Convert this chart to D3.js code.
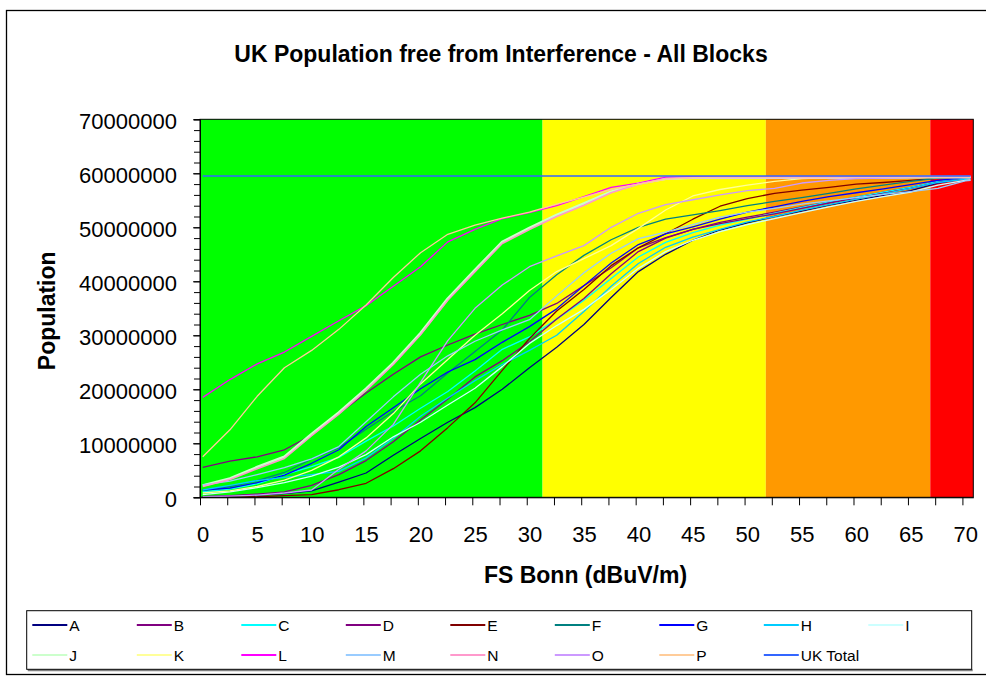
<!DOCTYPE html>
<html>
<head>
<meta charset="utf-8">
<script src="https://cdn.jsdelivr.net/npm/d3@7"></script>
<style>
  body { margin: 0; background: #fff; }
  svg { display: block; font-family: "Liberation Sans", Arial, Helvetica, sans-serif; }
</style>
</head>
<body>
<svg id="chart" width="986" height="677"></svg>
<script>
// Field strength categories (dBuV/m)
const fsBonn = [0, 2.5, 5, 7.5, 10, 12.5, 15, 17.5, 20, 22.5, 25, 27.5, 30, 32.5, 35,
                37.5, 40, 42.5, 45, 47.5, 50, 52.5, 55, 57.5, 60, 62.5, 65, 67.5, 70, 70.5];

// Population free from interference, in millions, per block
const blockA = [0.1,0.2,0.4,0.7,1.2,2.8,4.5,7.8,10.9,13.9,16.6,20.0,24.0,27.8,32.0,37.0,41.8,45.0,47.6,49.5,50.8,52.0,53.0,54.1,55.0,55.9,56.8,58.2,59.0,59.1];
const blockB = [5.55,6.7,7.5,8.8,11.5,15.5,19.3,22.8,26.0,28.2,30.2,32.0,33.7,35.9,39.2,42.5,46.2,48.1,49.6,50.9,51.9,52.8,53.8,54.7,55.6,56.5,57.4,58.5,59.1,59.2];
const blockC = [1.0,1.5,2.5,4.2,5.7,7.4,10.4,13.2,16.5,19.6,23.4,27.4,29.7,33.0,36.5,40.5,44.5,47.2,49.0,50.4,51.5,52.6,53.7,54.7,55.6,56.5,57.4,58.5,59.1,59.2];
const blockD = [0.1,0.3,0.6,1.0,2.2,4.2,6.8,10.3,14.3,18.2,22.3,25.3,28.8,33.0,36.8,41.4,45.5,48.0,49.6,50.7,51.6,52.5,53.5,54.5,55.4,56.3,57.2,58.3,59.0,59.1];
const blockE = [0.0,0.05,0.1,0.3,0.5,1.4,2.6,5.3,8.6,12.9,17.5,23.5,29.4,34.5,38.5,42.9,46.2,48.8,51.5,53.9,55.3,56.3,56.9,57.4,58.0,58.3,58.7,59.1,59.3,59.3];
const blockF = [1.35,2.0,3.1,4.6,7.1,9.2,12.6,15.9,18.8,23.0,27.0,31.0,37.0,41.2,44.8,47.7,50.0,51.5,52.3,53.1,54.0,54.8,55.5,56.3,57.1,57.8,58.5,59.1,59.4,59.4];
const blockG = [1.35,1.7,2.7,4.1,6.3,8.8,13.1,16.6,20.1,23.2,25.5,28.7,31.6,34.9,39.2,43.4,46.8,48.8,50.1,51.5,52.8,53.8,54.8,55.7,56.4,57.1,57.9,58.7,59.2,59.2];
const blockH = [1.35,2.2,3.1,3.7,4.2,4.8,7.3,10.9,15.0,18.4,21.6,24.6,27.2,30.0,34.4,39.1,43.3,46.3,48.2,49.6,51.0,52.0,53.2,54.2,55.2,56.2,57.2,58.3,58.9,59.0];
const blockI = [0.5,1.0,1.8,2.7,3.9,5.6,7.9,11.2,13.9,17.1,20.2,24.2,28.5,31.8,34.8,38.5,42.4,45.5,47.6,49.2,50.5,51.6,52.7,53.8,54.8,55.7,56.5,57.8,58.7,58.8];
const blockJ = [2.2,3.5,5.6,7.5,11.7,15.7,20.1,24.9,30.4,36.8,42.1,47.3,49.9,52.3,54.4,56.6,58.1,59.0,59.2,59.2,59.2,59.2,59.2,59.2,59.2,59.2,59.3,59.3,59.3,59.3];
const blockK = [0.8,1.2,2.0,3.2,5.0,7.5,11.0,15.5,21.0,25.5,30.0,34.0,38.3,41.8,44.2,46.6,49.8,53.2,55.8,57.0,57.8,58.5,59.0,59.2,59.3,59.3,59.3,59.3,59.3,59.3];
const blockL = [18.5,21.8,24.7,26.9,29.8,32.7,35.5,39.1,42.7,47.3,49.6,51.6,52.7,54.0,55.7,57.4,58.2,59.3,59.4,59.4,59.4,59.4,59.4,59.4,59.4,59.4,59.4,59.4,59.4,59.4];
const blockM = [2.3,3.0,4.2,5.5,7.1,9.4,14.0,18.6,22.8,26.2,28.9,31.0,32.9,37.3,41.6,45.2,47.9,49.1,50.5,51.9,52.8,53.5,54.3,54.9,55.5,56.1,56.6,57.2,58.6,58.7];
const blockN = [2.0,3.3,5.3,7.2,11.4,15.4,19.8,24.6,30.1,36.5,41.8,47.0,49.6,52.0,54.1,56.4,58.0,59.0,59.2,59.2,59.2,59.2,59.2,59.2,59.2,59.2,59.3,59.3,59.3,59.3];
const blockO = [0.1,0.2,0.4,0.8,1.35,5.2,8.6,13.5,21.3,29.0,35.0,39.3,42.7,44.7,46.6,50.0,52.6,54.2,55.1,56.0,56.8,57.2,58.2,58.7,59.0,59.1,59.2,59.3,59.3,59.3];
const blockP = [7.5,12.5,18.7,24.0,27.2,31.1,35.6,40.7,45.3,48.7,50.4,51.7,52.8,54.3,55.6,57.0,58.0,58.9,59.2,59.3,59.3,59.3,59.3,59.3,59.3,59.3,59.3,59.3,59.3,59.3];
const ukTotal = [59.5,59.5,59.5,59.5,59.5,59.5,59.5,59.5,59.5,59.5,59.5,59.5,59.5,59.5,59.5,59.5,59.5,59.5,59.5,59.5,59.5,59.5,59.5,59.5,59.5,59.5,59.5,59.5,59.5,59.5];

const seriesNames = ["A","B","C","D","E","F","G","H","I","J","K","L","M","N","O","P","UK Total"];
const seriesValues = [blockA,blockB,blockC,blockD,blockE,blockF,blockG,blockH,blockI,
                      blockJ,blockK,blockL,blockM,blockN,blockO,blockP,ukTotal];

// Reception quality zones along the field-strength axis
const zoneEdges = [-0.25, 31.2, 51.7, 66.8, 70.75];

// Axis tick labels
const xTickLabels = [0,5,10,15,20,25,30,35,40,45,50,55,60,65,70];
const yTickLabels = [0,10000000,20000000,30000000,40000000,50000000,60000000,70000000];

// ---- styling ----
const seriesColors = ["#000080","#800080","#00FFFF","#800080","#800000","#008080","#0000FF","#00CCFF",
                      "#CCFFFF","#CCFFCC","#FFFF99","#FF00FF","#99CCFF","#FF99CC","#CC99FF","#FFCC99","#3366FF"];
const seriesWidths = [1.3,1.3,1.3,1.3,1.3,1.3,1.3,1.3,1.3,2.6,1.3,1.3,1.3,1.6,1.3,1.3,1.5];
const zoneColors = ["#00FF00","#FFFF00","#FF9900","#FF0000"];

const svg = d3.select("#chart");
const plot = { left: 200, top: 119.3, right: 973.3, bottom: 497.3 };

const x = d3.scaleLinear().domain([zoneEdges[0], zoneEdges[zoneEdges.length - 1]])
  .range([plot.left, plot.right]);
const y = d3.scaleLinear().domain([0, 70000000]).range([plot.bottom, plot.top]);

// Chart frame
svg.append("rect").attr("x", 0).attr("y", 0).attr("width", 986).attr("height", 677).attr("fill", "#fff");
svg.append("rect").attr("x", 6.5).attr("y", 10.5).attr("width", 990).attr("height", 664)
  .attr("fill", "none").attr("stroke", "#000").attr("stroke-width", 1.3);

// Title
svg.append("text").attr("x", 501).attr("y", 62.3).attr("text-anchor", "middle")
  .attr("font-size", 23).attr("font-weight", "bold")
  .text("UK Population free from Interference - All Blocks");

// Zones
svg.append("g").selectAll("rect").data(zoneColors).join("rect")
  .attr("x", (d, i) => x(zoneEdges[i]))
  .attr("y", plot.top)
  .attr("width", (d, i) => x(zoneEdges[i + 1]) - x(zoneEdges[i]))
  .attr("height", plot.bottom - plot.top)
  .attr("fill", d => d);

// Lines
svg.append("defs").append("clipPath").attr("id", "plotClip")
  .append("rect").attr("x", plot.left).attr("y", plot.top)
  .attr("width", plot.right - plot.left).attr("height", plot.bottom - plot.top);

const line = d3.line()
  .x((d, i) => x(fsBonn[i]))
  .y(d => y(d * 1e6));

svg.append("g").attr("clip-path", "url(#plotClip)")
  .selectAll("path").data(seriesValues).join("path")
  .attr("d", d => line(d))
  .attr("fill", "none")
  .attr("stroke", (d, i) => seriesColors[i])
  .attr("stroke-width", (d, i) => seriesWidths[i])
  .attr("stroke-linejoin", "round");

// Plot border
svg.append("rect").attr("x", plot.left).attr("y", plot.top)
  .attr("width", plot.right - plot.left).attr("height", plot.bottom - plot.top)
  .attr("fill", "none").attr("stroke", "#000").attr("stroke-width", 1);

// Y axis: minor ticks, then major ticks with labels
const yMinor = d3.range(0, 70000001, 2000000);
svg.append("g").attr("transform", `translate(${plot.left},0)`)
  .call(d3.axisLeft(y).tickValues(yMinor).tickSize(6).tickFormat(""))
  .call(g => g.select(".domain").attr("stroke", "#000"));
const yAxis = svg.append("g").attr("transform", `translate(${plot.left},0)`)
  .call(d3.axisLeft(y).tickValues(yTickLabels).tickSize(7).tickPadding(16).tickFormat(d3.format("d")));
yAxis.select(".domain").remove();
yAxis.selectAll("text").attr("font-size", 22).attr("font-family", "Liberation Sans, Arial, sans-serif")
  .attr("fill", "#000").attr("dy", "0.42em");

// X axis: tick marks between category groups, labels on categories
const xTickMarks = d3.range(0, 29).map(k => zoneEdges[0] + 2.5 * k);
svg.append("g").attr("transform", `translate(0,${plot.bottom})`)
  .call(d3.axisBottom(x).tickValues(xTickMarks).tickSize(8).tickSizeOuter(0).tickFormat(""))
  .call(g => g.select(".domain").attr("stroke", "#000"));
const xAxis = svg.append("g").attr("transform", `translate(0,${plot.bottom})`)
  .call(d3.axisBottom(x).tickValues(xTickLabels).tickSize(0).tickPadding(29).tickFormat(d3.format("d")));
xAxis.select(".domain").remove();
xAxis.selectAll("text").attr("font-size", 22).attr("font-family", "Liberation Sans, Arial, sans-serif")
  .attr("fill", "#000");

// Axis titles
svg.append("text").attr("transform", "translate(55,310.8) rotate(-90)")
  .attr("text-anchor", "middle").attr("font-size", 23).attr("font-weight", "bold")
  .text("Population");
svg.append("text").attr("x", 585.5).attr("y", 582.7).attr("text-anchor", "middle")
  .attr("font-size", 23).attr("font-weight", "bold")
  .text("FS Bonn (dBuV/m)");

// Legend
const legend = { left: 26.7, top: 610.7, right: 971.7, bottom: 669.3 };
svg.append("line").attr("x1", legend.left + 1).attr("x2", legend.right + 1)
  .attr("y1", legend.bottom + 1).attr("y2", legend.bottom + 1)
  .attr("stroke", "#808080").attr("stroke-width", 2);
svg.append("rect").attr("x", legend.left).attr("y", legend.top)
  .attr("width", legend.right - legend.left).attr("height", legend.bottom - legend.top)
  .attr("fill", "#fff").attr("stroke", "#000").attr("stroke-width", 1);

const colW = 104.5;
const items = svg.append("g").selectAll("g").data(seriesNames).join("g")
  .attr("transform", (d, i) => `translate(${32.3 + colW * (i % 9)},${i < 9 ? 625 : 655})`);
items.append("line").attr("x1", 0).attr("x2", 35).attr("y1", 0).attr("y2", 0)
  .attr("stroke", (d, i) => seriesColors[i]).attr("stroke-width", 2);
items.append("text").attr("x", 37).attr("y", 0).attr("dy", "0.36em")
  .attr("font-size", 15.5).attr("fill", "#000").text(d => d);
</script>
</body>
</html>
